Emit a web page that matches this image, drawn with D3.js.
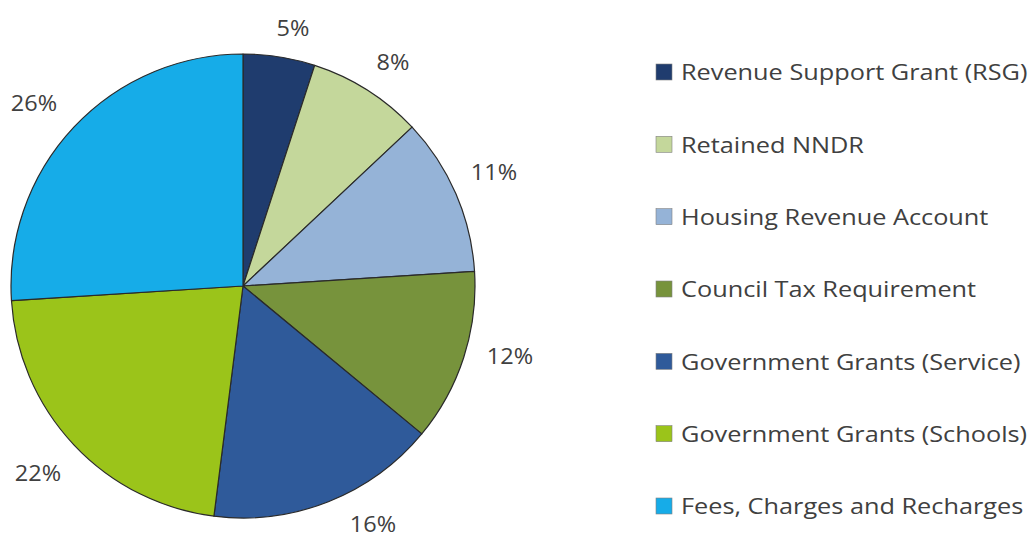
<!DOCTYPE html>
<html>
<head>
<meta charset="utf-8">
<script src="https://cdn.jsdelivr.net/npm/d3@7"></script>
<style>
  html, body { margin: 0; padding: 0; background: #ffffff; }
  svg { display: block; }
  text { font-family: "Open Sans", "Noto Sans", sans-serif; fill: #404040; }
</style>
</head>
<body>
<svg id="chart" width="1035" height="538"></svg>
<script>
// Income sources, in drawing order (clockwise from 12 o'clock)
const categories = [
  "Revenue Support Grant (RSG)",
  "Retained NNDR",
  "Housing Revenue Account",
  "Council Tax Requirement",
  "Government Grants (Service)",
  "Government Grants (Schools)",
  "Fees, Charges and Recharges"
];
const shares = [5, 8, 11, 12, 16, 22, 26];
const colors = ["#1f3c6e", "#c4d79b", "#95b3d7", "#77933c", "#2f5a9a", "#9bc41a", "#16ace8"];

// Label anchor positions (pixel centres) for each percentage text
const labelPos = [[293, 28], [393, 62], [494, 172], [510, 356], [373, 524], [38, 473], [34, 103]];

const svg = d3.select("#chart");
const cx = 243, cy = 286, r = 232;

const pie = d3.pie().sort(null).value(d => d);
const arc = d3.arc().innerRadius(0).outerRadius(r);
const color = d3.scaleOrdinal().domain(categories).range(colors);

const g = svg.append("g").attr("transform", `translate(${cx},${cy})`);
g.selectAll("path")
  .data(pie(shares))
  .join("path")
  .attr("d", arc)
  .attr("fill", (d, i) => color(categories[i]))
  .attr("stroke", "#2a2a2a")
  .attr("stroke-width", 1.2)
  .attr("stroke-linejoin", "round");

// Percentage labels (slightly widened glyphs)
svg.selectAll("text.pct")
  .data(shares)
  .join("text")
  .attr("class", "pct")
  .attr("transform", (d, i) => `translate(${labelPos[i][0]},${labelPos[i][1]}) scale(1.12,1)`)
  .attr("text-anchor", "middle")
  .attr("dominant-baseline", "central")
  .attr("font-size", 21)
  .text(d => d + "%");

// Legend
const legendY = d3.scalePoint().domain(categories).range([72, 506]);
const legend = svg.append("g");
const rows = legend.selectAll("g")
  .data(categories)
  .join("g")
  .attr("transform", d => `translate(656,${legendY(d)})`);
rows.append("rect")
  .attr("x", 0).attr("y", -8)
  .attr("width", 16).attr("height", 16)
  .attr("fill", d => color(d))
  .attr("stroke", "#808080")
  .attr("stroke-width", 0.6);
rows.append("text")
  .attr("transform", "translate(25,0) scale(1.15,1)")
  .attr("dominant-baseline", "central")
  .attr("font-size", 22)
  .text(d => d);
</script>
</body>
</html>
